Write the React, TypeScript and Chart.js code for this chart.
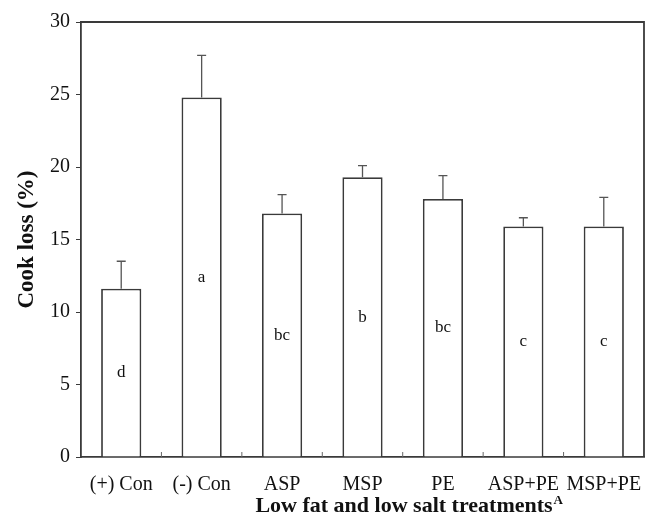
import React, { useEffect, useRef } from "react";
import { Chart, registerables } from "chart.js";

Chart.register(...registerables);

const categories = ["(+) Con", "(-) Con", "ASP", "MSP", "PE", "ASP+PE", "MSP+PE"];
const cookLoss = [11.6, 24.8, 16.8, 19.3, 17.8, 15.9, 15.9];
const errorTop = [13.5, 27.7, 18.1, 20.1, 19.4, 16.5, 17.9];
const letters = ["d", "a", "bc", "b", "bc", "c", "c"];
const yTicks = [0, 5, 10, 15, 20, 25, 30];

const LINE = "#3a3a3a";
const SERIF = "'Liberation Serif', 'Times New Roman', serif";

const overlay = {
  id: "overlay",
  afterDatasetsDraw(chart: any) {
    const { ctx, chartArea } = chart;
    const xs = chart.scales.x;
    const ys = chart.scales.y;
    const meta = chart.getDatasetMeta(0);
    ctx.save();
    // error bars
    ctx.strokeStyle = "#555";
    ctx.lineWidth = 1.3;
    meta.data.forEach((bar: any, i: number) => {
      const x = bar.x;
      const yTop = ys.getPixelForValue(cookLoss[i]);
      const yErr = ys.getPixelForValue(errorTop[i]);
      ctx.beginPath();
      ctx.moveTo(x, yTop);
      ctx.lineTo(x, yErr);
      ctx.moveTo(x - 4.5, yErr);
      ctx.lineTo(x + 4.5, yErr);
      ctx.stroke();
      // letters
      const yMid = ys.getPixelForValue(cookLoss[i] / 2);
      ctx.fillStyle = "#111";
      ctx.font = `17px ${SERIF}`;
      ctx.textAlign = "center";
      ctx.textBaseline = "middle";
      ctx.fillText(letters[i], x, yMid);
    });
    // inward x ticks at category boundaries
    ctx.lineWidth = 1;
    ctx.strokeStyle = "#666";
    for (let i = 1; i < categories.length; i++) {
      const bx = (xs.getPixelForValue(i - 1) + xs.getPixelForValue(i)) / 2;
      ctx.beginPath();
      ctx.moveTo(bx, chartArea.bottom);
      ctx.lineTo(bx, chartArea.bottom - 5);
      ctx.stroke();
    }
    // frame top and right
    ctx.strokeStyle = LINE;
    ctx.lineWidth = 1.8;
    ctx.beginPath();
    ctx.moveTo(chartArea.left, chartArea.top);
    ctx.lineTo(chartArea.right, chartArea.top);
    ctx.lineTo(chartArea.right, chartArea.bottom);
    ctx.stroke();
    // axis titles
    ctx.fillStyle = "#111";
    ctx.font = `bold 22px ${SERIF}`;
    ctx.textBaseline = "alphabetic";
    ctx.textAlign = "center";
    const xt = "Low fat and low salt treatments";
    ctx.fillText(xt, 404, 512);
    const w = ctx.measureText(xt).width;
    ctx.font = `bold 13px ${SERIF}`;
    ctx.textAlign = "left";
    ctx.fillText("A", 404 + w / 2 + 1, 504);
    ctx.save();
    ctx.translate(33, (chartArea.top + chartArea.bottom) / 2);
    ctx.rotate(-Math.PI / 2);
    ctx.font = `bold 23px ${SERIF}`;
    ctx.textAlign = "center";
    ctx.fillText("Cook loss (%)", 0, 0);
    ctx.restore();
    ctx.restore();
  },
};

export default function App() {
  const ref = useRef<HTMLCanvasElement>(null);
  useEffect(() => {
    document.body.style.margin = "0";
    const chart = new Chart(ref.current!, {
      type: "bar",
      data: {
        labels: categories,
        datasets: [
          {
            data: cookLoss,
            backgroundColor: "#ffffff",
            borderColor: LINE,
            borderWidth: 1.8,
            borderSkipped: "bottom",
            barPercentage: 0.5,
            categoryPercentage: 1,
          },
        ],
      },
      options: {
        responsive: false,
        animation: false,
        layout: { padding: { left: 0, top: 22, right: 5, bottom: 0 } },
        plugins: { legend: { display: false }, tooltip: { enabled: false } },
        scales: {
          x: {
            offset: true,
            grid: { display: false },
            border: { display: true, color: LINE, width: 1.8 },
            ticks: {
              color: "#111",
              font: { family: SERIF, size: 20 },
              padding: 8,
              maxRotation: 0,
              autoSkip: false,
            },
            afterFit: (s: any) => {
              s.height = 59;
              s.paddingLeft = 0;
              s.paddingRight = 0;
            },
          },
          y: {
            min: 0,
            max: 30,
            afterBuildTicks: (s: any) => {
              s.ticks = yTicks.map((v) => ({ value: v }));
            },
            grid: {
              drawOnChartArea: false,
              drawTicks: true,
              tickLength: 5,
              color: LINE,
              lineWidth: 1,
            },
            border: { display: true, color: LINE, width: 1.8 },
            ticks: {
              color: "#111",
              font: { family: SERIF, size: 20 },
              padding: 6,
            },
            afterFit: (s: any) => {
              s.width = 81;
              s.paddingTop = 0;
              s.paddingBottom = 0;
            },
          },
        },
      },
      plugins: [overlay],
    });
    return () => chart.destroy();
  }, []);
  return <canvas ref={ref} width={649} height={516} style={{ display: "block" }} />;
}
